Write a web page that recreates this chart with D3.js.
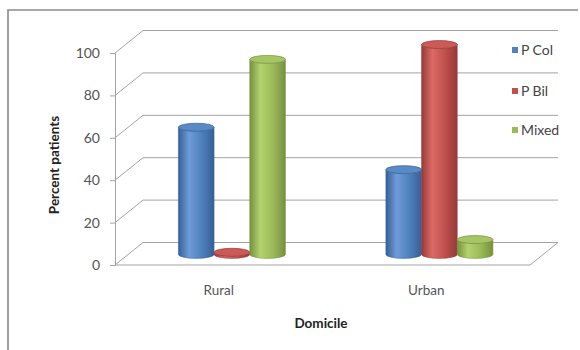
<!DOCTYPE html>
<html>
<head>
<meta charset="utf-8">
<script src="https://cdn.jsdelivr.net/npm/d3@7"></script>
<style>
  html, body { margin: 0; padding: 0; background: #fff; }
  svg { display: block; }
  text { font-family: Lato, "Liberation Sans", Arial, sans-serif; }
</style>
</head>
<body>
<svg id="chart" width="580" height="350"></svg>
<script>
// Share of patients per domicile, by pattern of involvement
const categories = ["Rural", "Urban"];
const seriesNames = ["P Col", "P Bil", "Mixed"];
const pCol  = [60, 40];
const pBil  = [1, 99];
const mixed = [92, 7];
const yTicks = [0, 20, 40, 60, 80, 100];

const seriesValues = [pCol, pBil, mixed];
const colors = {
  "P Col": { dark: "#365f96", mid: "#4f81bd", light: "#6e9cd8", top: "#5a8ac6" },
  "P Bil": { dark: "#963a38", mid: "#c0504d", light: "#dc6a66", top: "#cc5a57" },
  "Mixed": { dark: "#76913f", mid: "#9bbb59", light: "#b4d36f", top: "#a6c564" }
};

const svg = d3.select("#chart");

// Oblique 3D frame: front plane plus a depth offset toward the back wall
const depthDx = 28, depthDy = -22.5;
const x = d3.scaleBand().domain(categories).range([115, 530]);
const y = d3.scaleLinear().domain([0, 100]).range([265, 53]);
const inner = d3.scaleBand().domain(seriesNames)
  .range([x.bandwidth() * 0.242, x.bandwidth() * 0.758]);
const proj = (px, py, d) => [px + d * depthDx, py + d * depthDy];

// Outer frame
svg.append("path")
  .attr("d", "M8,350 L8,10 L578,10")
  .attr("fill", "none").attr("stroke", "#8a8a8a").attr("stroke-width", 1.6);

const grid = svg.append("g").attr("stroke", "#a3a3a3").attr("stroke-width", 1).attr("fill", "none");
const x0 = x.range()[0], x1 = x.range()[1];

// Back wall and side wall gridlines
yTicks.forEach(t => {
  const f = proj(x0, y(t), 0), b = proj(x0, y(t), 1), e = proj(x1, y(t), 1);
  grid.append("line").attr("x1", f[0]).attr("y1", f[1]).attr("x2", b[0]).attr("y2", b[1]);
  grid.append("line").attr("x1", b[0]).attr("y1", b[1]).attr("x2", e[0]).attr("y2", e[1]);
});

// Floor front and right edges
{
  const a = proj(x0, y(0), 0), c = proj(x1, y(0), 0), d = proj(x1, y(0), 1);
  grid.append("path").attr("d", `M${a}L${c}L${d}`);
}

// Vertical axis with ticks
const axisG = svg.append("g").attr("transform", `translate(${x0},0)`);
axisG.call(d3.axisLeft(y).tickValues(yTicks).tickSize(5).tickPadding(10));
axisG.select(".domain").attr("stroke", "#a3a3a3");
axisG.selectAll(".tick line").attr("stroke", "#a3a3a3");
axisG.selectAll(".tick text")
  .attr("fill", "#555").style("font-size", "14px")
  .style("font-family", 'Lato, "Liberation Sans", Arial, sans-serif');

// Cylinder gradients
const defs = svg.append("defs");
seriesNames.forEach((s, i) => {
  const c = colors[s];
  const g = defs.append("linearGradient").attr("id", "cyl" + i)
    .attr("x1", "0%").attr("x2", "100%").attr("y1", "0%").attr("y2", "0%");
  g.append("stop").attr("offset", "0%").attr("stop-color", c.dark);
  g.append("stop").attr("offset", "30%").attr("stop-color", c.light);
  g.append("stop").attr("offset", "65%").attr("stop-color", c.mid);
  g.append("stop").attr("offset", "100%").attr("stop-color", c.dark);
});

// Cylinders, placed midway in depth
const barDepth = 0.47;
const ry = 4;
const bars = svg.append("g");
categories.forEach((cat, ci) => {
  seriesNames.forEach((s, si) => {
    const v = seriesValues[si][ci];
    const left = x(cat) + inner(s);
    const w = inner.bandwidth();
    const rx = w / 2;
    const [lx, yb] = proj(left, y(0), barDepth);
    const yt = proj(left, y(v), barDepth)[1];
    const g = bars.append("g");
    g.append("path")
      .attr("d", `M${lx},${yt} L${lx},${yb} A${rx},${ry} 0 0 0 ${lx + w},${yb} L${lx + w},${yt} A${rx},${ry} 0 0 1 ${lx},${yt} Z`)
      .attr("fill", `url(#cyl${si})`)
      .attr("stroke", colors[s].dark).attr("stroke-width", 0.5);
    g.append("ellipse")
      .attr("cx", lx + rx).attr("cy", yt).attr("rx", rx).attr("ry", ry)
      .attr("fill", colors[s].top)
      .attr("stroke", colors[s].dark).attr("stroke-width", 0.7);
  });
});

// Category labels
svg.append("g").selectAll("text").data(categories).join("text")
  .attr("x", d => x(d) + x.bandwidth() / 2)
  .attr("y", 295)
  .attr("text-anchor", "middle")
  .attr("fill", "#555").style("font-size", "13.5px")
  .text(d => d);

// Axis titles
svg.append("text")
  .attr("x", 321).attr("y", 328)
  .attr("text-anchor", "middle")
  .attr("fill", "#222").style("font-size", "13.5px").style("font-weight", "bold")
  .text("Domicile");

svg.append("text")
  .attr("transform", "translate(59,165) rotate(-90)")
  .attr("text-anchor", "middle")
  .attr("fill", "#222").style("font-size", "13.5px").style("font-weight", "bold")
  .text("Percent patients");

// Legend
const legendY = [50, 91, 130];
const legend = svg.append("g");
seriesNames.forEach((s, i) => {
  legend.append("rect")
    .attr("x", 512).attr("y", legendY[i] - 3).attr("width", 6).attr("height", 6)
    .attr("fill", colors[s].mid);
  legend.append("text")
    .attr("x", 521).attr("y", legendY[i] + 5)
    .attr("fill", "#444").style("font-size", "14px")
    .text(s);
});
</script>
</body>
</html>
